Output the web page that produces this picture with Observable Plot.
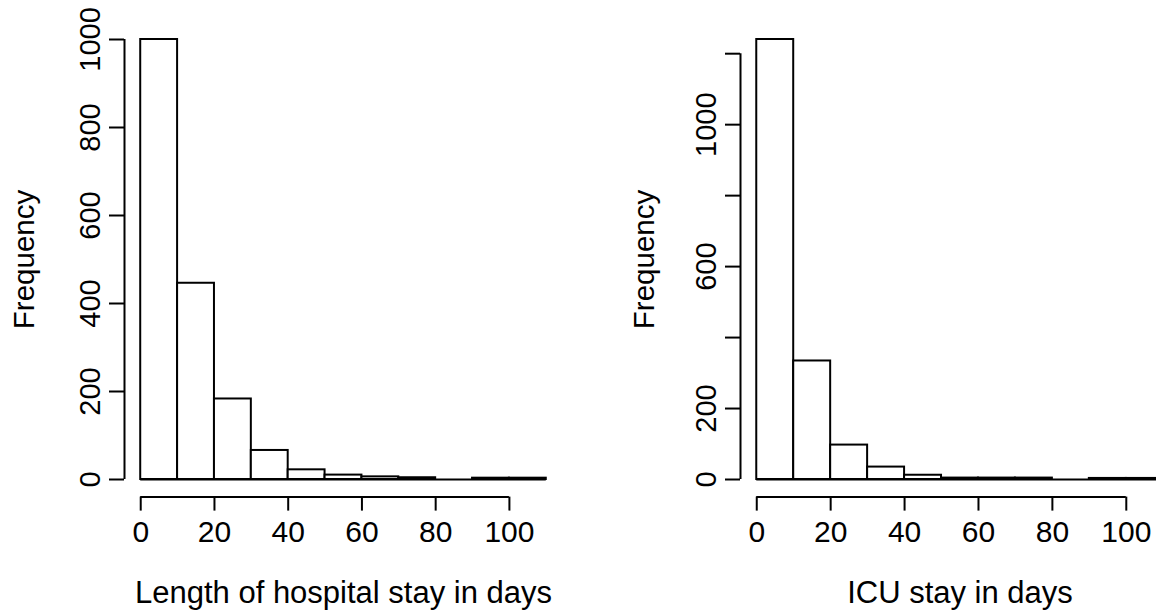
<!DOCTYPE html>
<html><head><meta charset="utf-8">
<script src="https://cdn.jsdelivr.net/npm/d3@7"></script>
<script src="https://cdn.jsdelivr.net/npm/@observablehq/plot@0.6"></script>
<style>
html,body{margin:0;padding:0;background:#fff;}
#wrap{position:relative;width:1156px;height:615px;overflow:hidden;background:#fff;}
#left{position:absolute;left:0;top:0;width:578px;height:615px;}
#right{position:absolute;left:578px;top:0;width:640px;height:615px;}
#wrap svg{max-width:none !important;display:block;}
</style></head><body><div id="wrap"><div id="left"></div><div id="right"></div></div>
<script>
// Bin edges (days) shared by both histograms
const binEdges = [0, 10, 20, 30, 40, 50, 60, 70, 80, 90, 100, 110];
// Frequencies
const hospitalCounts = [1000, 446, 183, 66, 22, 10, 6, 4, 0, 3, 3];
const icuCounts = [1240, 334, 97, 35, 12, 4, 4, 4, 0, 3, 3];
// Tick values / labels
const xTicks = [0, 20, 40, 60, 80, 100];
const hospitalYTicks = [0, 200, 400, 600, 800, 1000];
const icuYTicks = [0, 200, 400, 600, 800, 1000, 1200];
const icuYLabels = [0, 200, 600, 1000];
const hospitalXTitle = "Length of hospital stay in days";
const icuXTitle = "ICU stay in days";
const yTitle = "Frequency";

const FONT = '"Liberation Sans", Arial, Helvetica, sans-serif';

function histogram({counts, yTicks, yLabels, xTitle, width, marginLeft, marginRight, yTitleDx}) {
  const bins = counts.map((c, i) => ({x1: binEdges[i], x2: binEdges[i + 1], count: c}));
  const x0 = binEdges[0], xN = binEdges[binEdges.length - 1];
  const xPad = 0.04 * (xN - x0);
  const yMax = d3.max(counts);
  const yPad = 0.04 * yMax;
  const labelSet = new Set(yLabels);
  return Plot.plot({
    width, height: 615,
    marginLeft, marginRight, marginTop: 21.4, marginBottom: 118.4,
    style: {fontFamily: FONT, color: "black", background: "white", overflow: "visible", maxWidth: "none"},
    x: {domain: [x0 - xPad, xN + xPad]},
    y: {domain: [-yPad, yMax + yPad]},
    marks: [
      Plot.rectY(bins, {x1: "x1", x2: "x2", y: "count", fill: "white", stroke: "black", strokeWidth: 2}),
      Plot.ruleY([0], {x1: x0, x2: xN, stroke: "black", strokeWidth: 2}),
      // x axis (R style, line from first to last tick)
      Plot.ruleY([-yPad], {x1: xTicks[0], x2: xTicks[xTicks.length - 1], stroke: "black", strokeWidth: 2}),
      Plot.axisX({ticks: xTicks, tickSize: 14, tickPadding: 10, strokeWidth: 2, fontSize: 30, label: null, tickFormat: d => String(d)}),
      // y axis
      Plot.ruleX([x0 - xPad], {y1: yTicks[0], y2: yTicks[yTicks.length - 1], stroke: "black", strokeWidth: 2}),
      Plot.axisY({ticks: yTicks, tickSize: 15, tickPadding: 10, tickRotate: -90, textAnchor: "middle", lineAnchor: "bottom",
        strokeWidth: 2, fontSize: 29, label: null, tickFormat: d => labelSet.has(d) ? String(d) : ""}),
      // titles
      Plot.text([xTitle], {frameAnchor: "bottom", dy: 106, lineAnchor: "bottom", textAnchor: "middle", fontSize: 31, fill: "black"}),
      Plot.text([yTitle], {frameAnchor: "left", dx: yTitleDx, rotate: -90, lineAnchor: "bottom", textAnchor: "middle", fontSize: 29.5, fill: "black"})
    ]
  });
}

document.getElementById("left").append(histogram({
  counts: hospitalCounts, yTicks: hospitalYTicks, yLabels: hospitalYTicks, xTitle: hospitalXTitle,
  width: 578, marginLeft: 124, marginRight: 16, yTitleDx: -91
}));
document.getElementById("right").append(histogram({
  counts: icuCounts, yTicks: icuYTicks, yLabels: icuYLabels, xTitle: icuXTitle,
  width: 640, marginLeft: 162, marginRight: 39, yTitleDx: -87
}));
</script>
</body></html>
